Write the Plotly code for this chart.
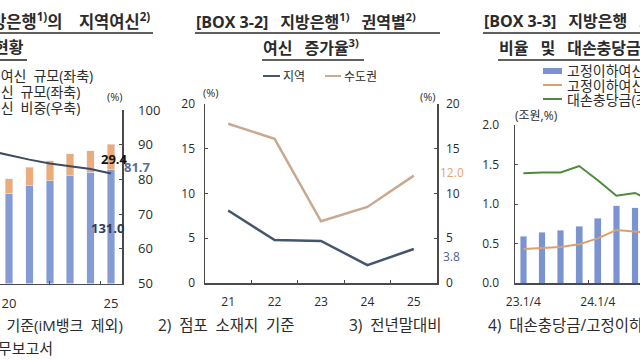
import plotly.graph_objects as go

W, H = 640, 360
def px(x):
    return x / W
def py(y):
    return 1 - y / H

FONT = "Open Sans, Noto Sans CJK KR, sans-serif"
TXT = "#2b2b2b"
AX = "#4a4a4a"
SP = "\u2002"            # wide word gap used in the Korean text
TSP = "\u2002\u2005"     # title word gap

# ---------------- data ----------------
# Panel 1: regional loans (left axis, trn won) and share (right axis, %)
p1_years = [20, 21, 22, 23, 24, 25]
p1_local = [104.0, 112.6, 118.7, 124.0, 128.0, 131.0]
p1_capital = [16.5, 21.5, 23.0, 25.4, 25.2, 29.4]
p1_share_years = [19, 20, 21, 22, 23, 24, 25]
p1_share = [88.3, 86.9, 85.7, 84.6, 83.7, 83.0, 81.7]

# Panel 2: loan growth by region (%)
p2_years = ["21", "22", "23", "24", "25"]
p2_local = [8.1, 4.8, 4.7, 2.0, 3.8]
p2_capital = [17.8, 16.1, 6.9, 8.5, 12.0]

# Panel 3: NPL amount, NPL ratio, loan-loss reserves
p3_quarters = ["23.1/4", "23.2/4", "23.3/4", "23.4/4", "24.1/4", "24.2/4", "24.3/4", "24.4/4"]
p3_npl = [0.59, 0.64, 0.67, 0.72, 0.82, 0.98, 0.95, None]
p3_npl_ratio = [0.43, 0.44, 0.455, 0.49, 0.565, 0.67, 0.645, 0.63]
p3_reserve = [1.39, 1.40, 1.40, 1.48, 1.30, 1.105, 1.14, 1.03]
p3_tick_labels = ["23.1/4", "24.1/4"]

# colors
C1_BLUE = "#849bd3"
C1_ORANGE = "#ebab7a"
C1_LINE = "#3f4a5e"
C2_LOCAL = "#45556d"
C2_CAP = "#c9a98f"
C3_BAR = "#7b94cf"
C3_ORANGE = "#d9a074"
C3_GREEN = "#4f8a3c"

fig = go.Figure()

# Panel 1
fig.add_trace(go.Bar(x=p1_years, y=p1_local, marker_color=C1_BLUE, width=0.37,
                     xaxis="x", yaxis="y", showlegend=False))
fig.add_trace(go.Bar(x=p1_years, y=p1_capital, marker_color=C1_ORANGE, width=0.37,
                     xaxis="x", yaxis="y", showlegend=False))
fig.add_trace(go.Scatter(x=p1_share_years, y=p1_share, mode="lines",
                         line=dict(color=C1_LINE, width=2), xaxis="x", yaxis="y2",
                         showlegend=False))

# Panel 2
fig.add_trace(go.Scatter(x=p2_years, y=p2_local, mode="lines",
                         line=dict(color=C2_LOCAL, width=2.5), xaxis="x2", yaxis="y3",
                         showlegend=False))
fig.add_trace(go.Scatter(x=p2_years, y=p2_capital, mode="lines",
                         line=dict(color=C2_CAP, width=2.5), xaxis="x2", yaxis="y4",
                         showlegend=False))

# Panel 3
p3_x = list(range(len(p3_quarters)))
fig.add_trace(go.Bar(x=p3_x, y=p3_npl, marker_color=C3_BAR, width=0.36,
                     xaxis="x3", yaxis="y5", showlegend=False))
fig.add_trace(go.Scatter(x=p3_x, y=p3_npl_ratio, mode="lines",
                         line=dict(color=C3_ORANGE, width=2), xaxis="x3", yaxis="y5",
                         showlegend=False))
fig.add_trace(go.Scatter(x=p3_x, y=p3_reserve, mode="lines",
                         line=dict(color=C3_GREEN, width=2), xaxis="x3", yaxis="y5",
                         showlegend=False))

tickfont = dict(family=FONT, size=12, color=TXT)
axline = dict(showline=True, linecolor=AX, linewidth=1.5, showgrid=False, zeroline=False,
              ticks="inside", ticklen=3, tickcolor=AX, tickfont=tickfont)

p3_tickpos = [p3_quarters.index(t) for t in p3_tick_labels]

fig.update_layout(
    width=W, height=H,
    margin=dict(l=0, r=0, t=0, b=0, autoexpand=False),
    paper_bgcolor="white", plot_bgcolor="rgba(0,0,0,0)",
    barmode="stack", bargap=0,
    font=dict(family=FONT, color=TXT),
    hovermode=False,
    # panel 1
    xaxis=dict(domain=[0, px(122)], range=[19.559, 25.539], tickvals=[20, 25],
               ticktext=["20", "25"], ticks="", showline=True, linecolor=AX, linewidth=1.5,
               showgrid=False, zeroline=False, tickfont=dict(family=FONT, size=13, color=TXT),
               ticklabelstandoff=7,
               minor=dict(tickvals=[22, 24.5], ticks="inside", ticklen=3, tickcolor=AX, showgrid=False)),
    yaxis=dict(domain=[py(283.5), py(110)], range=[0, 200], visible=False),
    yaxis2=dict(overlaying="y", side="right", anchor="x", range=[50, 100], dtick=10,
                ticklabelstandoff=12, **{**axline, "tickfont": dict(family=FONT, size=13, color=TXT)}),
    # panel 2
    xaxis2=dict(domain=[px(205), px(437)], type="category", range=[-0.5, 4.5],
                anchor="y3", tickson="boundaries", ticklabelstandoff=7, **axline),
    yaxis3=dict(domain=[py(283), py(104)], range=[0, 20], dtick=5, anchor="x2",
                ticklabelstandoff=6, **axline),
    yaxis4=dict(overlaying="y3", side="right", anchor="x2", range=[0, 20], dtick=5,
                ticklabelstandoff=5, **axline),
    # panel 3
    xaxis3=dict(domain=[px(515), 1], range=[-0.45, 6.27], anchor="y5",
                tickvals=p3_tickpos, ticktext=p3_tick_labels, ticklabelstandoff=7,
                minor=dict(tickvals=[3.5], ticks="inside", ticklen=3, tickcolor=AX, showgrid=False),
                **{**axline, "ticks": ""}),
    yaxis5=dict(domain=[py(283), py(125)], range=[0, 2], dtick=0.5, tickformat=".1f",
                anchor="x3", ticklabelstandoff=12, **axline),
)

ann = []
def text(x, y, s, size=13, xanchor="left", color=TXT, bold=False):
    if bold:
        s = "<b>" + s + "</b>"
    ann.append(dict(x=px(x), y=py(y), xref="paper", yref="paper", text=s, showarrow=False,
                    xanchor=xanchor, yanchor="middle", font=dict(family=FONT, size=size, color=color)))

shapes = []
def hline(x0, x1, y, color, width=1.5):
    shapes.append(dict(type="line", xref="paper", yref="paper", x0=px(x0), x1=px(x1),
                       y0=py(y), y1=py(y), line=dict(color=color, width=width)))

# titles
text(152, 21, "[BOX 3-1]" + TSP + "지방은행<sup>1)</sup>의\u3000지역여신<sup>2)</sup>", 16.5, "right", bold=True)
text(26, 47, "현황", 16, "right", bold=True)
hline(0, 153, 33, TXT, 1.6)
hline(0, 27, 60, TXT, 1.6)

text(194, 21, "[BOX 3-2]" + TSP + "지방은행<sup>1)</sup>" + TSP + "권역별<sup>2)</sup>", 16, "left", bold=True)
text(261, 47, "여신" + TSP + "증가율<sup>3)</sup>", 16, "left", bold=True)
hline(195, 440, 33, TXT, 1.6)
hline(262, 364, 60, TXT, 1.6)

text(482, 21, "[BOX 3-3]" + TSP + "지방은행" + TSP + "고정이하여신", 16, "left", bold=True)
text(497, 47, "비율" + TSP + "및" + TSP + "대손충당금" + TSP + "적립률<sup>4)</sup>", 16, "left", bold=True)
hline(483, 640, 33, TXT, 1.6)
hline(498, 640, 60, TXT, 1.6)

# panel 1 legend (keys off-frame)
text(95, 75, "수도권여신" + SP + "규모(좌축)", 14, "right")
text(82, 91, "지역여신" + SP + "규모(좌축)", 14, "right")
text(82, 107, "지역여신" + SP + "비중(우축)", 14, "right")
text(115, 97, "(%)", 11, "center")
# panel 1 value labels
text(114, 159, "29.4", 13, "center", color="#111111", bold=True)
text(137.5, 167, "81.7", 13, "center", color="#5a6e9a", bold=True)
text(107, 228, "131.0", 13, "center", color="#2e3a55", bold=True)

# panel 2 legend
hline(263, 280, 76, C2_LOCAL, 2)
text(281, 76, "지역", 12)
hline(325, 341, 76, C2_CAP, 2)
text(342, 76, "수도권", 12)
text(211, 93, "(%)", 11, "center")
text(428, 97, "(%)", 11, "center")
text(452, 172.5, "12.0", 12, "center", color="#e3a574")
text(451, 256, "3.8", 12, "center", color="#4a5f9a")

# panel 3 legend
shapes.append(dict(type="rect", xref="paper", yref="paper", x0=px(543), x1=px(562),
                   y0=py(74), y1=py(68), fillcolor=C3_BAR, line=dict(width=0)))
text(565, 71, "고정이하여신(조원)", 14)
hline(543, 562, 85, C3_ORANGE, 2)
text(565, 85, "고정이하여신비율(%)", 14)
hline(543, 562, 99, C3_GREEN, 2)
text(565, 99, "대손충당금(조원)", 14)
text(536, 116, "(조원,%)", 12, "center")

# footnotes
text(125, 325, "주:" + SP + "1)" + SP + "6월말" + SP + "기준(iM뱅크" + SP + "제외)", 15, "right")
text(55, 348, "자료:" + SP + "업무보고서", 15, "right")
text(156, 325, "2)" + SP + "점포" + SP + "소재지" + SP + "기준", 15.5)
text(347, 325, "3)" + SP + "전년말대비", 15.5)
text(486, 325, "4)" + SP + "대손충당금/고정이하여신", 15.5)

fig.update_layout(annotations=ann, shapes=shapes)
fig.write_html("out.html", config={"displayModeBar": False, "staticPlot": True},
               post_script="document.body.style.margin='0px';document.body.style.overflow='hidden';")
